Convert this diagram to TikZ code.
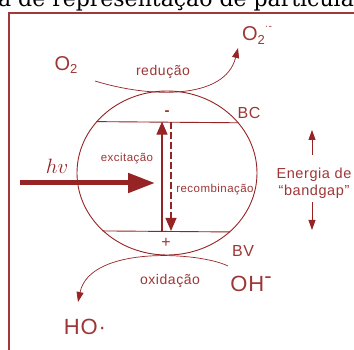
\documentclass[tikz,border=0pt]{standalone}
\usepackage{fontspec}
\usepackage{tikz}
\usetikzlibrary{arrows.meta,shapes.geometric}
\newfontfamily\phfont[LetterSpace=4]{Liberation Sans}
\newfontfamily\capfont{DejaVu Serif}
\definecolor{phred}{RGB}{150,36,36}
\colorlet{phtext}{phred!92!white}
\newcommand{\phsub}[1]{\raisebox{-0.3ex}{\fontsize{13}{13}\selectfont #1}}
\tikzset{
  phline/.style={draw=phred,line width=0.9pt},
  phlabel/.style={text=phtext,inner sep=0pt,font=\phfont\fontsize{11.5}{11.5}\selectfont},
  phredoxlabel/.style={text=phtext,inner sep=0pt,font=\phfont\fontsize{14}{14}\selectfont},
  phband/.style={text=phtext,inner sep=0pt,font=\phfont\fontsize{16}{16}\selectfont},
  phspecies/.style={text=phtext,inner sep=0pt,font=\phfont\fontsize{20}{20}\selectfont},
  phredox/.style={-{Triangle[length=10pt,width=7pt]},draw=phred,line width=0.7pt},
  phexcite/.style={-{Triangle[length=13pt,width=11pt]},phline,line width=1.2pt},
  phrecomb/.style={-{Triangle[length=13pt,width=11pt]},phline,line width=1.1pt,
                   dash pattern=on 7pt off 3pt},
  phlight/.style={-{Triangle[length=27pt,width=19pt]},draw=phred,line width=5pt},
  phgap/.style={-{Triangle[length=10pt,width=7pt]},phline,line width=0.8pt}
}

\begin{document}
\begin{tikzpicture}[x=1pt,y=-1pt]
  \useasboundingbox (0,0) rectangle (354,350);
  \fill[white] (0,0) rectangle (354,350);
  \clip (0,0) rectangle (354,350);

  % cut-off caption line and frame
  \node[anchor=base,inner sep=0pt,font=\capfont\fontsize{22}{22}\selectfont] (caption) at (176,7)
    {a de representação de partícula};
  \draw[draw=phred!90!white,line width=2pt] (9,360) -- (9,13.5) -- (360,13.5);

  % particle with the two bands
  \node[phline,ellipse,minimum width=180pt,minimum height=164pt,inner sep=0pt] (particle) at (167,173) {};
  \coordinate (bcL) at (particle.144.8);
  \coordinate (bcR) at (particle.35.2);
  \coordinate (bvL) at (particle.222.4);
  \coordinate (bvR) at (particle.317.6);
  \draw[phline] (bcL) -- (bcR);
  \draw[phline] (bvL) -- (bvR);
  \node[phband] (bc) at (249,113) {BC};
  \node[phband] (bv) at (243,251) {BV};
  \node[phband,font=\phfont\bfseries\fontsize{15}{15}\selectfont] (electron) at (167,113) {-};
  \node[phband] (hole) at (166,243) {+};

  \draw[phexcite] ([xshift=-5pt]particle.center |- bvL) -- ([xshift=-5pt]particle.center |- bcL);
  \draw[phrecomb] ([xshift=4pt]particle.center |- bcL) -- ([xshift=4pt]particle.center |- bvL);
  \node[phlabel] (excite) at (127,159) {excitação};
  \node[phlabel] (recomb) at (215,190) {recombinação};

  % incoming light
  \node[text=phred,inner sep=0pt,font=\fontsize{22}{22}\selectfont] (photon) at (57,166) {$hv$};
  \coordinate (lightstart) at (20,183);
  \coordinate (lighttip) at (155,183);
  \draw[phlight] (lightstart) -- (lighttip);

  % band gap
  \node[text=phtext,inner sep=0pt,align=center,font=\phfont\fontsize{14.5}{17}\selectfont]
    (gaplabel) at (314,183) {Energia de\\“bandgap”};
  \coordinate (gapup) at (312,130);
  \coordinate (gapdown) at (312,230);
  \draw[phgap] ([yshift=13pt,xshift=-2pt]gaplabel.north) -- (gapup);
  \draw[phgap] ([yshift=-4pt,xshift=-2pt]gaplabel.south) -- (gapdown);

  % reduction at the conduction band
  \node[phspecies] (oxy) at (66,65) {O\phsub{2}};
  \node[phspecies] (superox) at (257,35)
    {O\phsub{2}\raisebox{1.1ex}{\fontsize{10}{10}\selectfont ·-}};
  \node[phredoxlabel] (reduc) at (163,72) {redução};
  \coordinate (redstart) at (95,81);
  \coordinate (redtip) at (238,48);
  \draw[phredox] (redstart) .. controls (150,98) and (225,100) .. (redtip);

  % oxidation at the valence band
  \node[phspecies,font=\phfont\fontsize{22}{22}\selectfont] (hydrox) at (251,284) {OH\raisebox{0.7ex}{-}};
  \node[phspecies,font=\phfont\fontsize{22}{22}\selectfont] (radical) at (85,327) {HO·};
  \node[phredoxlabel] (oxid) at (170,281) {oxidação};
  \coordinate (oxstart) at (228,266);
  \coordinate (oxtip) at (78,302);
  \draw[phredox] (oxstart) .. controls (200,252) and (90,245) .. (oxtip);
\end{tikzpicture}
\end{document}
